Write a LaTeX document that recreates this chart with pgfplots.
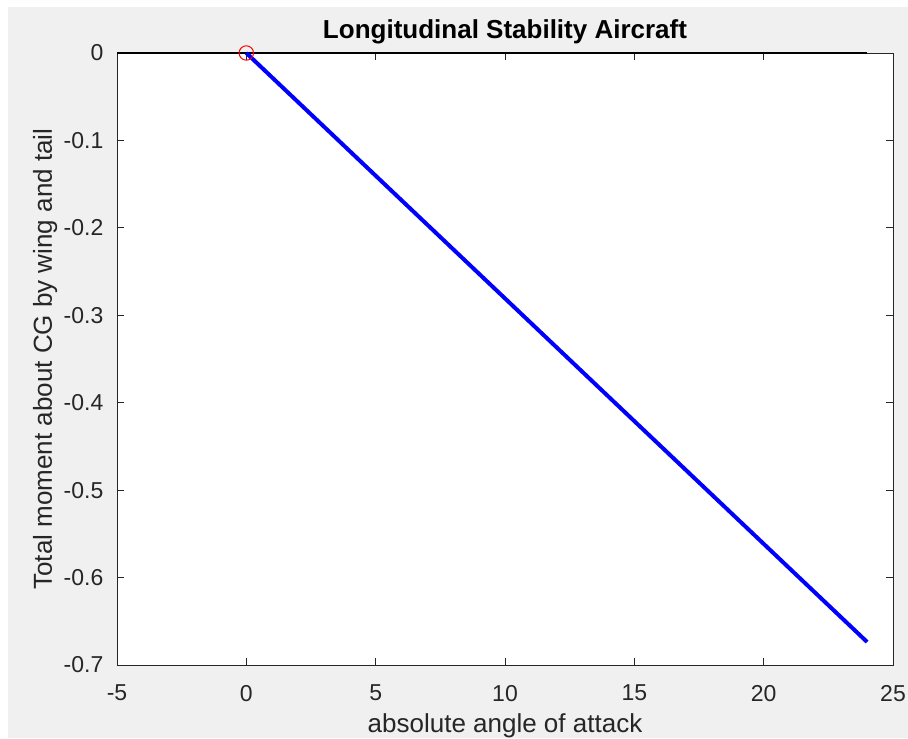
\documentclass[border=0pt]{standalone}
\usepackage{pgfplots}
\pgfplotsset{compat=1.18}
\usepackage{fontspec}
\setmainfont{Liberation Sans}
\definecolor{figbg}{HTML}{F0F0F0}
\definecolor{axgray}{HTML}{262626}
\begin{document}
\begin{tikzpicture}
\useasboundingbox (-58.5pt,-36.5pt) rectangle (395.5pt,332.5pt);
\fill[white] (-58.5pt,-36.5pt) rectangle (395.5pt,332.5pt);
\fill[figbg] (-54.5pt,-36.5pt) rectangle (395.5pt,329pt);
\begin{axis}[
  at={(0,0)}, anchor=south west, scale only axis,
  width=388pt, height=306pt,
  xmin=-5, xmax=25, ymin=-0.7, ymax=0,
  xtick={-5,0,5,10,15,20,25},
  ytick={-0.7,-0.6,-0.5,-0.4,-0.3,-0.2,-0.1,0},
  /pgf/number format/assume math mode=true,
  tick label style={font=\fontsize{11.5}{13}\selectfont, text=axgray},
  xticklabel style={yshift=-6.5pt},
  yticklabel style={xshift=-3.3pt},
  axis line style={axgray, line width=0.5pt},
  tick style={axgray, line width=0.5pt},
  major tick length=3.5pt,
  axis background/.style={fill=white},
  clip=false,
  every axis title shift=0pt,
  title={\textbf{Longitudinal Stability Aircraft}},
  title style={font=\fontsize{13}{15}\selectfont, at={(axis description cs:0.5,1.0229)}, anchor=base, text=black},
  xlabel={absolute angle of attack},
  xlabel style={font=\fontsize{13}{15}\selectfont, at={(axis description cs:0.5,-0.11)}, anchor=base, text=axgray},
  ylabel={Total moment about CG by wing and tail},
  ylabel style={font=\fontsize{13}{15}\selectfont, at={(axis description cs:-0.0838,0.5)}, anchor=base, text=axgray},
]
\addplot[black, line width=0.6pt, forget plot] coordinates {(-5,0) (24,0)};
\addplot[red, only marks, mark=o, mark size=3.6pt, mark options={line width=0.5pt}] coordinates {(0,0)};
\addplot[blue, line width=2pt] coordinates {(0,0) (24,-0.6737)};
\end{axis}
\end{tikzpicture}
\end{document}
